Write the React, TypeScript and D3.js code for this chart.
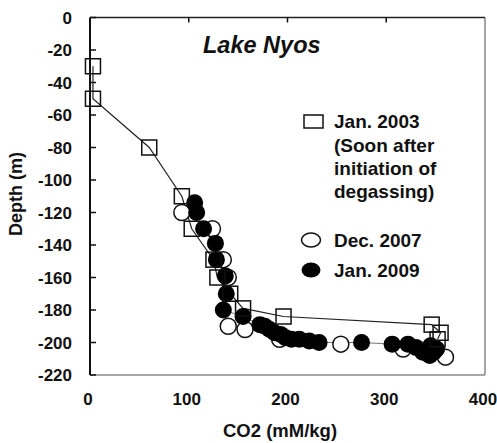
import * as d3 from 'd3'

// Jan. 2003 (squares, connected)
const jan2003CO2 = [3, 3, 60, 93, 103, 125, 129, 142, 155, 196, 346, 355, 352]
const jan2003Depth = [-30, -50, -80, -110, -130, -149, -160, -170, -179, -184, -189, -194, -198]

// Dec. 2007 (open circles)
const dec2007CO2 = [93, 124, 135, 140, 140, 157, 192, 254, 317, 360]
const dec2007Depth = [-120, -130, -149, -160, -190, -192, -198, -201, -204, -209]

// Jan. 2009 (filled circles)
const jan2009CO2 = [
  106, 108, 115, 127, 128, 137, 138, 135, 155, 172, 177, 182, 187, 193, 198, 204, 212, 222, 232, 275,
  306, 322, 330, 337, 341, 344, 348, 351, 345,
]
const jan2009Depth = [
  -114, -120, -130, -139, -149, -159, -170, -180, -184, -189, -190, -192, -194, -195, -197, -198, -198,
  -199, -200, -200, -201, -201, -203, -206, -205, -208, -206, -204, -202,
]

const xTicks = [0, 100, 200, 300, 400]
const yTicks = [0, -20, -40, -60, -80, -100, -120, -140, -160, -180, -200, -220]

const W = 497
const H = 443
const FONT = "Arial, 'Liberation Sans', sans-serif"

export default function App() {
  const x = d3.scaleLinear().domain([0, 400]).range([90, 485])
  const y = d3.scaleLinear().domain([0, -220]).range([17.5, 375])

  const sq = jan2003CO2.map((c, i) => [c, jan2003Depth[i]] as [number, number])
  const open = dec2007CO2.map((c, i) => [c, dec2007Depth[i]] as [number, number])
  const filled = jan2009CO2.map((c, i) => [c, jan2009Depth[i]] as [number, number])

  const line = d3
    .line<[number, number]>()
    .x((d) => x(d[0]))
    .y((d) => y(d[1]))

  const [x0, x1] = x.range()
  const [y0, y1] = y.range()

  return (
    <svg
      width={W}
      height={H}
      style={{ position: 'absolute', left: 0, top: 0, background: '#fff' }}
      fontFamily={FONT}
    >
      {/* frame */}
      <line x1={x1} x2={x1} y1={y0} y2={y1} stroke="#888" strokeWidth={1.5} />
      <line x1={x0} x2={x1} y1={y1} y2={y1} stroke="#888" strokeWidth={1.5} />
      <line x1={x0} x2={x1} y1={y0} y2={y0} stroke="#222" strokeWidth={1.5} />
      <line x1={x0} x2={x0} y1={y0} y2={y1} stroke="#111" strokeWidth={2} />

      {yTicks.map((t) => (
        <g key={t}>
          <line x1={x0} x2={x0 + 6} y1={y(t)} y2={y(t)} stroke="#111" strokeWidth={1.5} />
          <text
            x={72}
            y={y(t)}
            dy="0.36em"
            textAnchor="end"
            fontSize={17}
            fontWeight="bold"
            fill="#111"
          >
            {t}
          </text>
        </g>
      ))}
      {xTicks.map((t) => (
        <g key={t}>
          {t > 0 && t < 400 && (
            <line x1={x(t)} x2={x(t)} y1={y0} y2={y0 + 5} stroke="#111" strokeWidth={1.5} />
          )}
          <text x={x(t) - 2} y={405} textAnchor="middle" fontSize={17} fontWeight="bold" fill="#111">
            {t}
          </text>
        </g>
      ))}

      <text x={280} y={437} textAnchor="middle" fontSize={18.5} fontWeight="bold" fill="#111">
        CO2 (mM/kg)
      </text>
      <text
        transform={`translate(22,194) rotate(-90)`}
        textAnchor="middle"
        fontSize={18}
        fontWeight="bold"
        fill="#111"
      >
        Depth (m)
      </text>

      <text x={203} y={53} fontSize={23.5} fontWeight="bold" fontStyle="italic" fill="#111">
        Lake Nyos
      </text>

      {/* series lines */}
      <path d={line(filled) ?? ''} fill="none" stroke="#777" strokeWidth={1} />
      <path d={line(sq) ?? ''} fill="none" stroke="#222" strokeWidth={1.2} />

      {open.map((d, i) => (
        <circle key={'o' + i} cx={x(d[0])} cy={y(d[1])} r={8} fill="#fff" stroke="#111" strokeWidth={1.5} />
      ))}
      {filled.map((d, i) => (
        <circle key={'f' + i} cx={x(d[0])} cy={y(d[1])} r={8.5} fill="#000" />
      ))}
      {sq.map((d, i) => (
        <rect
          key={'s' + i}
          x={x(d[0]) - 7.5}
          y={y(d[1]) - 7.5}
          width={15}
          height={15}
          fill="none"
          stroke="#111"
          strokeWidth={1.5}
        />
      ))}

      {/* legend */}
      <rect x={304} y={115} width={19} height={13} fill="none" stroke="#111" strokeWidth={1.5} />
      <g fontSize={19} fontWeight="bold" fill="#111">
        <text x={334} y={128}>Jan. 2003</text>
        <text x={334} y={152}>(Soon after</text>
        <text x={334} y={175}>initiation of</text>
        <text x={334} y={198}>degassing)</text>
        <text x={334} y={247}>Dec. 2007</text>
        <text x={334} y={277}>Jan. 2009</text>
      </g>
      <ellipse cx={311} cy={240} rx={9.5} ry={7} fill="#fff" stroke="#111" strokeWidth={1.5} />
      <ellipse cx={311} cy={270} rx={9.5} ry={7.5} fill="#000" />
    </svg>
  )
}
